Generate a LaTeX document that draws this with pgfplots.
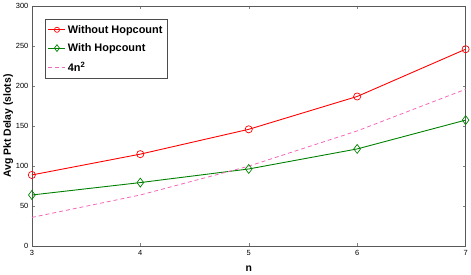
\documentclass[border=0pt]{standalone}
\usepackage{pgfplots}
\pgfplotsset{compat=1.18}
\usepackage{fontspec}
\setmainfont{Liberation Sans}
\begin{document}
\begin{tikzpicture}
\begin{axis}[
  scale only axis,
  width=435bp, height=241bp,
  xmin=3, xmax=7, ymin=0, ymax=300,
  xtick={3,4,5,6,7}, ytick={0,50,100,150,200,250,300},
  tick align=inside,
  tick style={gray, thin},
  major tick length=3bp,
  axis line style={black!65, thin},
  tick label style={font=\fontsize{7.5}{8}\selectfont, /pgf/number format/assume math mode=true},
  xticklabel style={yshift=-1bp},
  xlabel={\bfseries n}, ylabel={\bfseries Avg Pkt Delay (slots)},
  label style={font=\fontsize{10.5}{11}\selectfont},
  xlabel style={yshift=-3bp},
  ylabel style={yshift=-4bp},
  legend style={at={(0.03,0.946)}, anchor=north west, font=\fontsize{11}{13}\selectfont\bfseries, draw=black!70, inner xsep=3pt, inner ysep=4pt, row sep=5pt},
  legend cell align=left,
]
\addlegendimage{red, line width=0.9pt, mark=o, mark size=2.6pt, mark options={line width=0.7pt}}
\addlegendentry{Without Hopcount}
\addlegendimage{green!50!black, line width=0.9pt, mark=diamond, mark size=3.4pt, mark options={line width=0.7pt}}
\addlegendentry{With Hopcount}
\addlegendimage{magenta!60, line width=0.8pt, dash pattern=on 4pt off 3pt}
\addlegendentry{4n$^\mathbf{2}$}
\addplot[forget plot, red, line width=0.9pt, mark=o, mark size=3.6pt, mark options={line width=0.7pt}] coordinates {(3,89) (4,115) (5,146) (6,187) (7,246)};
\addplot[forget plot, green!50!black, line width=0.9pt, mark=diamond, mark size=4.5pt, mark options={line width=0.7pt}] coordinates {(3,64) (4,79.5) (5,96.5) (6,121.5) (7,157.5)};
\addplot[forget plot, magenta!60, line width=0.8pt, dash pattern=on 4pt off 3pt, no marks] coordinates {(3,36) (4,64) (5,100) (6,144) (7,196)};
\end{axis}
\end{tikzpicture}
\end{document}
